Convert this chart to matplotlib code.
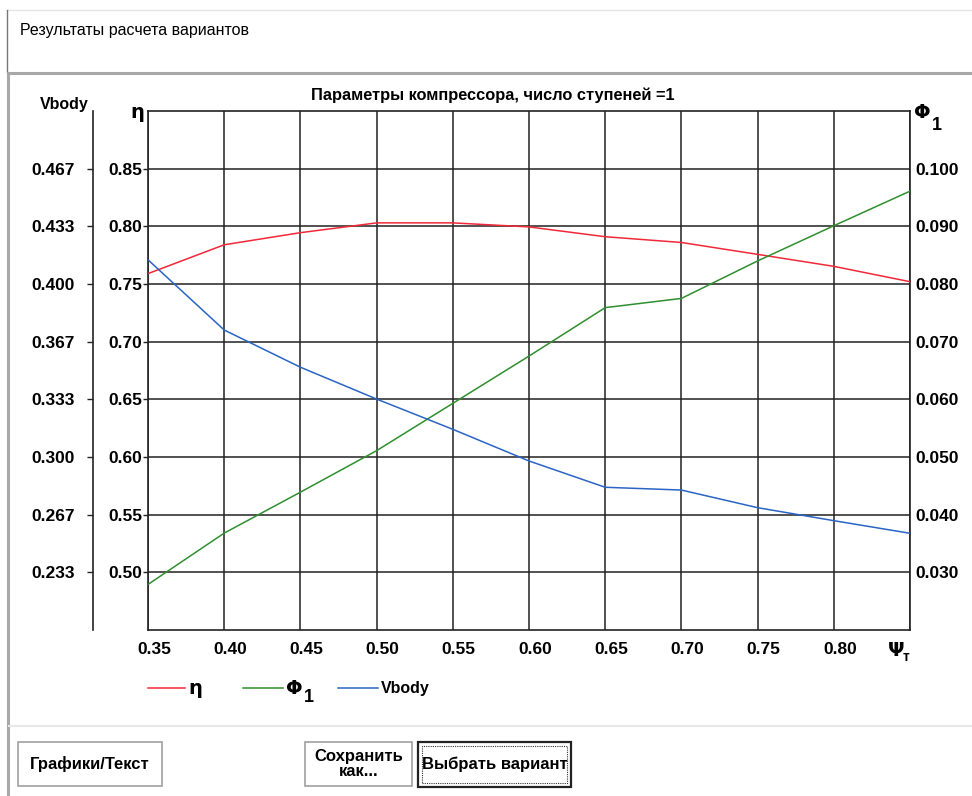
import numpy as np
import matplotlib
matplotlib.use('Agg')
import matplotlib.pyplot as plt
import matplotlib.transforms as mtransforms
from matplotlib.patches import Rectangle
from matplotlib.lines import Line2D

plt.rcParams['font.family'] = ['Liberation Sans', 'DejaVu Sans']

# данные
psi = [0.35, 0.40, 0.45, 0.50, 0.55, 0.60, 0.65, 0.70, 0.75, 0.80, 0.85]
eta = [0.759, 0.784, 0.7945, 0.803, 0.803, 0.7995, 0.791, 0.786, 0.7757, 0.7653, 0.752]
phi1 = [0.0279, 0.0368, 0.0439, 0.0511, 0.0593, 0.0675, 0.0759, 0.0775, 0.0840, 0.0901, 0.0961]
vbody = [0.414, 0.3734, 0.3519, 0.3335, 0.316, 0.2977, 0.2825, 0.2809, 0.2707, 0.2632, 0.2559]

x_ticks = [0.35, 0.40, 0.45, 0.50, 0.55, 0.60, 0.65, 0.70, 0.75, 0.80, 0.85]
x_labels = ['0.35', '0.40', '0.45', '0.50', '0.55', '0.60', '0.65', '0.70', '0.75', '0.80', '']
eta_ticks = [0.50, 0.55, 0.60, 0.65, 0.70, 0.75, 0.80, 0.85]
eta_labels = ['0.50', '0.55', '0.60', '0.65', '0.70', '0.75', '0.80', '0.85']
phi_ticks = [0.030, 0.040, 0.050, 0.060, 0.070, 0.080, 0.090, 0.100]
phi_labels = ['0.030', '0.040', '0.050', '0.060', '0.070', '0.080', '0.090', '0.100']
v_ticks = [7 / 30, 8 / 30, 9 / 30, 10 / 30, 11 / 30, 12 / 30, 13 / 30, 14 / 30]
v_labels = ['0.233', '0.267', '0.300', '0.333', '0.367', '0.400', '0.433', '0.467']

c_eta = '#f02838'
c_phi = '#2f8f2f'
c_v = '#2a64c4'

W, H = 972, 796
tick_fs = 12.5
PT = 0.72  # пикселей -> пунктов при dpi=100


def px(x, y):
    # пиксели скриншота -> координаты фигуры
    return x / W, 1 - y / H


fig = plt.figure(figsize=(9.72, 7.96), dpi=100)
fig.patch.set_facecolor('white')

# рамка окна
fig.add_artist(Line2D([px(7, 0)[0], 1], [px(0, 10)[1]] * 2, color='#e4e4e4', lw=1))
fig.add_artist(Line2D([px(7, 0)[0]] * 2, [px(0, 10)[1], px(0, 72)[1]], color='#777777', lw=1))
fig.add_artist(Line2D([px(8, 0)[0], 1], [px(0, 73)[1]] * 2, color='#a8a8a8', lw=2.2))
fig.add_artist(Line2D([px(8, 0)[0]] * 2, [px(0, 73)[1], px(0, 796)[1]], color='#a8a8a8', lw=2.2))
fig.add_artist(Line2D([px(9, 0)[0], 1], [px(0, 726)[1]] * 2, color='#e8e8e8', lw=1.5))
fig.text(*px(20, 31), 'Результаты расчета вариантов', fontsize=11.5, va='center', ha='left')

# основная ось
l, t = px(148, 111)
r, b = px(910, 630)
ax = fig.add_axes([l, b, r - l, t - b])
ax.set_xlim(0.35, 0.85)
ax.set_ylim(0.45, 0.90)
for s in ax.spines.values():
    s.set_color('#222222')
    s.set_linewidth(1.2)

ax.set_xticks(x_ticks)
ax.set_xticklabels(x_labels)
ax.set_yticks(eta_ticks)
ax.set_yticklabels(eta_labels)
ax.tick_params(axis='x', length=0, pad=9, labelsize=tick_fs)
ax.tick_params(axis='y', length=5 * PT, width=1, pad=0.5, labelsize=tick_fs, color='#222222')
for lab in ax.get_xticklabels() + ax.get_yticklabels():
    lab.set_fontweight('bold')
shift = mtransforms.ScaledTranslation(6 / 100, 0, fig.dpi_scale_trans)
for lab in ax.get_xticklabels():
    lab.set_transform(lab.get_transform() + shift)
ax.grid(True, color='#222222', lw=1.1)
ax.set_axisbelow(True)

ax.plot(psi, eta, color=c_eta, lw=1.1, zorder=3)

# ось Ф1 справа
ax_phi = ax.twinx()
ax_phi.set_ylim(0.02, 0.11)
ax_phi.set_yticks(phi_ticks)
ax_phi.set_yticklabels(phi_labels, fontweight='bold')
ax_phi.tick_params(axis='y', length=0, pad=5 * PT, labelsize=tick_fs)
for s in ax_phi.spines.values():
    s.set_visible(False)
ax_phi.plot(psi, phi1, color=c_phi, lw=1.1)

# ось Vbody слева (отдельная)
ax_v = ax.twinx()
ax_v.set_ylim(0.2, 0.5)
ax_v.yaxis.set_ticks_position('left')
ax_v.yaxis.set_label_position('left')
for name, s in ax_v.spines.items():
    s.set_visible(name == 'left')
ax_v.spines['left'].set_position(('axes', (93 - 148) / (910 - 148)))
ax_v.spines['left'].set_color('#222222')
ax_v.spines['left'].set_linewidth(1.2)
ax_v.set_yticks(v_ticks)
ax_v.set_yticklabels(v_labels, fontweight='bold')
ax_v.tick_params(axis='y', length=6 * PT, width=1, pad=12 * PT, labelsize=tick_fs,
                 color='#222222')
ax_v.plot(psi, vbody, color=c_v, lw=1.1)

# подписи
fig.text(*px(493, 95), 'Параметры компрессора, число ступеней =1', fontsize=11.8,
         fontweight='bold', ha='center', va='center')
fig.text(*px(89, 104), 'Vbody', fontsize=11.5, fontweight='bold', ha='right', va='center')
fig.text(*px(137, 113), 'η', fontsize=14, fontweight='bold', ha='center', va='center',
         family=['DejaVu Sans'])
fig.text(*px(914, 113), 'Φ', fontsize=14, fontweight='bold', ha='left', va='center',
         family=['DejaVu Sans'])
fig.text(*px(932, 125), '1', fontsize=13, fontweight='bold', ha='left', va='center')
fig.text(*px(888, 651), 'Ψ', fontsize=14, fontweight='bold', ha='left', va='center',
         family=['DejaVu Sans'])
fig.text(*px(903, 657), 'т', fontsize=10, fontweight='bold', ha='left', va='center')

# легенда
leg_items = [('η', c_eta, 148, 185), ('Φ', c_phi, 243, 283), ('Vbody', c_v, 338, 378)]
for name, col, x0, x1 in leg_items:
    fig.add_artist(Line2D([px(x0, 0)[0], px(x1, 0)[0]], [px(0, 688)[1]] * 2, color=col, lw=1.1))
    if name == 'Vbody':
        fig.text(*px(x1 + 3, 688), name, fontsize=11.5, fontweight='bold', va='center')
    else:
        fig.text(*px(x1 + 3, 688), name, fontsize=14, fontweight='bold', va='center',
                 family=['DejaVu Sans'])
fig.text(*px(304, 698), '1', fontsize=13, fontweight='bold', va='center')

# кнопки
buttons = [(18, 742, 162, 786, 'Графики/Текст'),
           (305, 742, 412, 786, 'Сохранить\nкак...'),
           (418, 742, 571, 787, 'Выбрать вариант')]
for i, (x0, y0, x1, y1, txt) in enumerate(buttons):
    bx, by = px(x0, y1)
    bw = (x1 - x0) / W
    bh = (y1 - y0) / H
    if i == 2:
        fig.add_artist(Rectangle((bx, by), bw, bh, transform=fig.transFigure,
                                 facecolor='white', edgecolor='#222222', lw=1.6))
        fig.add_artist(Rectangle((bx + 4 / W, by + 4 / H), bw - 8 / W, bh - 8 / H,
                                 transform=fig.transFigure, facecolor='none',
                                 edgecolor='#333333', lw=0.8, ls=(0, (1, 1))))
    else:
        fig.add_artist(Rectangle((bx, by), bw, bh, transform=fig.transFigure,
                                 facecolor='white', edgecolor='#a0a0a0', lw=1.2))
    fig.text(*px((x0 + x1) / 2, (y0 + y1) / 2), txt, fontsize=12, fontweight='bold',
             ha='center', va='center', linespacing=1.0)

fig.savefig('out.png', dpi=100)
